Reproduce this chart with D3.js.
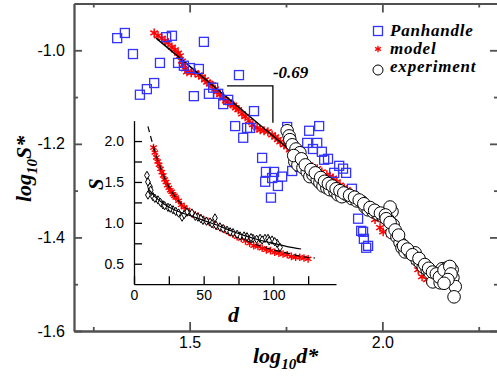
<!DOCTYPE html>
<html>
<head>
<meta charset="utf-8">
<script src="https://cdn.jsdelivr.net/npm/d3@7"></script>
<style>
  body { margin: 0; background: #fff; }
  svg { display: block; }
  .tick text { font-family: "Liberation Sans", Arial, sans-serif; fill: #000; }
  .lbl { font-family: "Liberation Serif", "Times New Roman", serif; font-weight: bold; font-style: italic; fill: #000; }
</style>
</head>
<body>
<svg id="chart" width="497" height="380"></svg>
<script>
// main panel: log10 d* vs log10 S*
const panhandle = [
  [1.312, -0.974], [1.332, -0.963], [1.353, -1.008], [1.371, -1.095], [1.389, -1.083], [1.408, -1.070],
  [1.423, -1.027], [1.439, -0.972], [1.454, -0.969], [1.470, -1.027], [1.485, -1.033], [1.501, -1.038],
  [1.524, -1.040], [1.537, -0.982], [1.511, -1.098], [1.550, -1.093], [1.561, -1.080], [1.574, -1.093],
  [1.587, -1.115], [1.600, -1.106], [1.628, -1.053], [1.618, -1.162], [1.639, -1.187], [1.649, -1.166],
  [1.657, -1.166], [1.667, -1.130], [1.688, -1.230], [1.696, -1.281], [1.698, -1.260], [1.711, -1.315],
  [1.714, -1.273], [1.719, -1.260], [1.729, -1.290], [1.740, -1.270], [1.753, -1.164], [1.766, -1.258],
  [1.786, -1.249], [1.805, -1.198], [1.810, -1.172], [1.820, -1.211], [1.831, -1.198], [1.836, -1.162],
  [1.843, -1.217], [1.849, -1.234], [1.859, -1.232], [1.875, -1.262], [1.888, -1.247], [1.898, -1.253],
  [1.906, -1.262], [1.921, -1.296], [1.937, -1.360], [1.945, -1.386], [1.950, -1.388], [1.952, -1.403],
  [1.958, -1.422], [1.963, -1.418]
];

const modelMain = [
  [1.408, -0.963], [1.418, -0.969], [1.428, -0.974], [1.436, -0.980], [1.444, -0.984], [1.454, -0.993],
  [1.462, -0.999], [1.470, -1.006], [1.475, -1.012], [1.480, -1.023], [1.483, -1.031], [1.488, -1.040],
  [1.493, -1.046], [1.504, -1.048], [1.514, -1.048], [1.524, -1.053], [1.532, -1.057], [1.540, -1.063],
  [1.545, -1.068], [1.553, -1.072], [1.558, -1.074], [1.566, -1.083], [1.571, -1.089], [1.579, -1.095],
  [1.587, -1.102], [1.594, -1.108], [1.600, -1.110], [1.607, -1.115], [1.613, -1.117], [1.620, -1.123],
  [1.626, -1.127], [1.636, -1.136], [1.644, -1.142], [1.654, -1.151], [1.664, -1.159], [1.675, -1.166],
  [1.683, -1.170], [1.693, -1.172], [1.703, -1.174], [1.714, -1.181], [1.722, -1.185], [1.729, -1.191],
  [1.735, -1.196], [1.745, -1.202], [1.753, -1.206], [1.760, -1.213], [1.768, -1.219], [1.779, -1.228],
  [1.792, -1.234], [1.799, -1.241], [1.807, -1.245], [1.818, -1.249], [1.831, -1.253], [1.843, -1.260],
  [1.856, -1.266], [1.864, -1.270], [1.872, -1.273], [1.882, -1.281], [1.890, -1.288], [1.901, -1.294],
  [1.908, -1.298], [1.919, -1.305], [1.929, -1.311], [1.940, -1.324], [1.950, -1.335], [1.960, -1.341],
  [1.968, -1.347], [1.981, -1.362], [1.994, -1.379], [2.002, -1.388], [2.020, -1.394], [2.041, -1.401],
  [2.054, -1.416], [2.072, -1.431], [2.085, -1.452], [2.093, -1.469], [2.103, -1.484], [2.116, -1.490]
];

const experimentMain = [
  [1.753, -1.172], [1.758, -1.183], [1.760, -1.191], [1.766, -1.202], [1.776, -1.211], [1.786, -1.219],
  [1.773, -1.238], [1.781, -1.245], [1.794, -1.251], [1.805, -1.260], [1.812, -1.270], [1.820, -1.266],
  [1.831, -1.277], [1.838, -1.283], [1.846, -1.290], [1.856, -1.294], [1.864, -1.298], [1.877, -1.302],
  [1.885, -1.309], [1.895, -1.313], [1.908, -1.309], [1.921, -1.317], [1.934, -1.322], [1.947, -1.324],
  [1.955, -1.335], [1.963, -1.341], [1.976, -1.345], [1.989, -1.350], [2.002, -1.354], [2.015, -1.354],
  [2.025, -1.345], [2.020, -1.335], [2.002, -1.356], [2.015, -1.362], [2.028, -1.373], [2.025, -1.390],
  [2.038, -1.399], [2.046, -1.411], [2.051, -1.422], [2.059, -1.431], [2.072, -1.433], [2.085, -1.433],
  [2.090, -1.448], [2.098, -1.454], [2.106, -1.463], [2.116, -1.469], [2.124, -1.476], [2.137, -1.480],
  [2.144, -1.486], [2.131, -1.495], [2.150, -1.497], [2.155, -1.467], [2.168, -1.465], [2.181, -1.469],
  [2.183, -1.486], [2.189, -1.505], [2.186, -1.527],
  [1.770, -1.225], [1.790, -1.232], [1.800, -1.245], [1.815, -1.255], [1.826, -1.262], [1.840, -1.272],
  [1.850, -1.280], [1.860, -1.285], [1.870, -1.290], [1.880, -1.296], [1.890, -1.300], [1.900, -1.305],
  [1.915, -1.310], [1.928, -1.314], [1.940, -1.320], [1.952, -1.328], [1.968, -1.336], [1.980, -1.342],
  [1.995, -1.348], [2.008, -1.352], [2.010, -1.360], [2.020, -1.368], [2.033, -1.384], [2.042, -1.395],
  [2.055, -1.418], [2.065, -1.425], [2.078, -1.437], [2.095, -1.445], [2.110, -1.458], [2.120, -1.466],
  [2.130, -1.474], [2.140, -1.478], [2.148, -1.485], [2.160, -1.470], [2.175, -1.462], [2.178, -1.478],
  [2.170, -1.490], [2.160, -1.498]
];

const fitMain = [[1.413, -0.974], [1.780, -1.227]];
const slopeMark = [[1.597, -1.076], [1.716, -1.076], [1.716, -1.155]];
const slopeText = "-0.69";

// inset: d vs S
const modelInset = [
  [14, 1.92], [15, 1.86], [16, 1.80], [17, 1.75], [18, 1.71], [19, 1.66], [20, 1.62], [21, 1.58],
  [22, 1.53], [23, 1.50], [24, 1.46], [25, 1.43], [26, 1.40], [27, 1.38], [28, 1.35], [29, 1.33],
  [30, 1.31], [32, 1.27], [34, 1.22], [36, 1.19], [38, 1.16], [40, 1.13], [42, 1.11], [44, 1.10],
  [46, 1.08], [48, 1.06], [50, 1.04], [53, 1.02], [56, 0.99], [59, 0.96], [62, 0.94], [65, 0.92],
  [68, 0.89], [71, 0.86], [74, 0.83], [77, 0.81], [80, 0.78], [83, 0.75], [86, 0.72], [89, 0.71],
  [92, 0.69], [95, 0.67], [98, 0.66], [101, 0.64], [104, 0.63], [107, 0.62], [110, 0.61], [113, 0.59],
  [116, 0.58], [119, 0.58], [122, 0.57], [125, 0.56]
];

const experimentInset = [
  [9.3, 1.58], [10.0, 1.50], [11.5, 1.44], [10.0, 1.34], [13.6, 1.32], [17.2, 1.28], [20.8, 1.22],
  [24.4, 1.19], [28.0, 1.16], [34.5, 1.07], [38.0, 1.13], [41.6, 1.12], [45.9, 1.07], [49.5, 1.03],
  [54.6, 1.01], [58.1, 1.06], [58.9, 0.97], [61.7, 0.95], [66.8, 0.91], [71.1, 0.88], [76.1, 0.84],
  [81.1, 0.83], [85.4, 0.81], [90.5, 0.81], [94.0, 0.81], [96.2, 0.81], [99.1, 0.79], [102.7, 0.75],
  [104.8, 0.70], [12, 1.40], [15, 1.30], [19, 1.25], [22, 1.21], [26, 1.18], [30, 1.14], [32, 1.12],
  [36, 1.10], [44, 1.08], [48, 1.05], [52, 1.02], [56, 0.99], [64, 0.93], [69, 0.89], [74, 0.86],
  [79, 0.84], [84, 0.82], [88, 0.80], [92, 0.79], [97, 0.78], [101, 0.77]
];

const fitModelInset = [
  [10, 2.18], [14, 1.93], [20, 1.63], [25, 1.44], [30, 1.31], [40, 1.14], [50, 1.03], [60, 0.95],
  [70, 0.87], [80, 0.79], [90, 0.72], [100, 0.67], [110, 0.63], [120, 0.59], [130, 0.57]
];
const fitExpInset = [
  [10, 1.42], [15, 1.32], [20, 1.25], [30, 1.15], [40, 1.09], [50, 1.03], [60, 0.97], [70, 0.90],
  [80, 0.84], [90, 0.79], [100, 0.75], [110, 0.71], [120, 0.68]
];

const legendLabels = ["Panhandle", "model", "experiment"];
const mainXMajor = [1.5, 2.0], mainXMinor = [1.25, 1.75, 2.25];
const mainYMajor = [-1.6, -1.4, -1.2, -1.0], mainYMinor = [-1.5, -1.3, -1.1];
const insetXMajor = [0, 50, 100], insetXMinor = [25, 75, 125];
const insetYTicks = [0.5, 0.75, 1.0, 1.25, 1.5, 1.75, 2.0], insetYLabels = [0.5, 1.0, 1.5, 2.0];

const svg = d3.select('#chart');
const margin = {left: 74, right: 498, top: 3.5, bottom: 331};
const box = {left: 134, right: 336, top: 120.6, bottom: 284.2};

const x = d3.scaleLinear().domain([1.2, 2.3]).range([margin.left, margin.right]);
const y = d3.scaleLinear().domain([-1.6, -0.9]).range([margin.bottom, margin.top]);
const xi = d3.scaleLinear().domain([0, 145]).range([box.left, box.right]);
const yi = d3.scaleLinear().domain([0.25, 2.25]).range([box.bottom, box.top]);

const fmt = d => d.toFixed(1);
const frameColor = '#505050';

function styleAxis(g, color, width) {
  g.selectAll('path, line').attr('stroke', color).attr('stroke-width', width);
}

// main frame
const addAxis = (axis, tx, ty) => {
  const g = svg.append('g').attr('transform', 'translate(' + tx + ',' + ty + ')').call(axis);
  styleAxis(g, frameColor, 1.8);
  g.selectAll('text').style('font-size', '16px');
  return g;
};
addAxis(d3.axisBottom(x).tickValues(mainXMajor).tickSize(-9).tickSizeOuter(0).tickPadding(6).tickFormat(fmt), 0, margin.bottom);
addAxis(d3.axisBottom(x).tickValues(mainXMinor).tickSize(-4).tickSizeOuter(0).tickFormat(''), 0, margin.bottom);
addAxis(d3.axisTop(x).tickValues(mainXMajor).tickSize(-9).tickSizeOuter(0).tickFormat(''), 0, margin.top);
addAxis(d3.axisTop(x).tickValues(mainXMinor).tickSize(-4).tickSizeOuter(0).tickFormat(''), 0, margin.top);
addAxis(d3.axisLeft(y).tickValues(mainYMajor).tickSize(-8).tickSizeOuter(0).tickPadding(9).tickFormat(fmt), margin.left, 0);
addAxis(d3.axisLeft(y).tickValues(mainYMinor).tickSize(-4).tickSizeOuter(0).tickFormat(''), margin.left, 0);
addAxis(d3.axisRight(y).tickValues(mainYMajor).tickSize(-8).tickSizeOuter(0).tickFormat(''), margin.right, 0);
addAxis(d3.axisRight(y).tickValues(mainYMinor).tickSize(-4).tickSizeOuter(0).tickFormat(''), margin.right, 0);

// inset axes
const addInsetAxis = (axis, tx, ty) => {
  const g = svg.append('g').attr('transform', 'translate(' + tx + ',' + ty + ')').call(axis);
  styleAxis(g, '#000', 1.3);
  g.selectAll('text').style('font-size', '14px');
  return g;
};
addInsetAxis(d3.axisBottom(xi).tickValues(insetXMajor.concat(insetXMinor)).tickSize(-8).tickSizeOuter(0).tickPadding(6)
  .tickFormat(d => insetXMajor.includes(d) ? d : ''), 0, box.bottom);
addInsetAxis(d3.axisLeft(yi).tickValues(insetYTicks).tickSize(-8).tickSizeOuter(0).tickPadding(10)
  .tickFormat(d => insetYLabels.includes(d) ? fmt(d) : ''), box.left, 0);

// inset data
const lineI = d3.line().x(d => xi(d[0])).y(d => yi(d[1])).curve(d3.curveMonotoneX);
const star = d3.symbol().type(d3.symbolAsterisk);
const diamond = d3.symbol().type(d3.symbolDiamond).size(20);

svg.append('g').selectAll('path').data(modelInset).join('path')
  .attr('transform', d => 'translate(' + xi(d[0]) + ',' + yi(d[1]) + ')')
  .attr('d', star.size(40)()).attr('fill', 'none').attr('stroke', '#ff0000').attr('stroke-width', 1.4);

svg.append('path').datum(fitModelInset).attr('d', lineI)
  .attr('fill', 'none').attr('stroke', '#000').attr('stroke-width', 1.2).attr('stroke-dasharray', '6,4');

svg.append('g').selectAll('path').data(experimentInset).join('path')
  .attr('transform', d => 'translate(' + xi(d[0]) + ',' + yi(d[1]) + ')')
  .attr('d', diamond()).attr('fill', '#fff').attr('stroke', '#000').attr('stroke-width', 1);

svg.append('path').datum(fitExpInset).attr('d', lineI)
  .attr('fill', 'none').attr('stroke', '#000').attr('stroke-width', 1.2);

// main data
svg.append('g').selectAll('path').data(modelMain).join('path')
  .attr('transform', d => 'translate(' + x(d[0]) + ',' + y(d[1]) + ')')
  .attr('d', star.size(55)()).attr('fill', 'none').attr('stroke', '#ff0000').attr('stroke-width', 1.5);

const lineM = d3.line().x(d => x(d[0])).y(d => y(d[1]));
svg.append('path').datum(fitMain).attr('d', lineM).attr('fill', 'none').attr('stroke', '#000').attr('stroke-width', 1.5);
svg.append('path').datum(slopeMark).attr('d', lineM).attr('fill', 'none').attr('stroke', '#000').attr('stroke-width', 1.3);
svg.append('text').attr('class', 'lbl').attr('x', x(slopeMark[1][0])).attr('y', y(slopeMark[1][1]) - 8)
  .style('font-size', '17px').text(slopeText);

const sq = 9;
svg.append('g').selectAll('rect').data(panhandle).join('rect')
  .attr('x', d => x(d[0]) - sq / 2).attr('y', d => y(d[1]) - sq / 2)
  .attr('width', sq).attr('height', sq)
  .attr('fill', 'none').attr('stroke', '#3333ff').attr('stroke-width', 1.3);

svg.append('g').selectAll('circle').data(experimentMain).join('circle')
  .attr('cx', d => x(d[0])).attr('cy', d => y(d[1])).attr('r', 6.3)
  .attr('fill', '#fff').attr('stroke', '#000').attr('stroke-width', 1);

// legend
const legend = svg.append('g').attr('transform', 'translate(378,0)');
legend.append('rect').attr('x', -4.5).attr('y', 26.5).attr('width', 9).attr('height', 9)
  .attr('fill', 'none').attr('stroke', '#3333ff').attr('stroke-width', 1.3);
legend.append('path').attr('transform', 'translate(0,49)').attr('d', star.size(30)())
  .attr('fill', 'none').attr('stroke', '#ff0000').attr('stroke-width', 1.3);
legend.append('circle').attr('cx', 0).attr('cy', 70).attr('r', 5)
  .attr('fill', '#fff').attr('stroke', '#000').attr('stroke-width', 1);
legendLabels.forEach((t, i) => {
  legend.append('text').attr('class', 'lbl').attr('x', 12).attr('y', 36 + i * 18)
    .style('font-size', '17px').style('letter-spacing', '0.8px').text(t);
});

// axis titles
const yTitle = svg.append('text').attr('class', 'lbl')
  .attr('transform', 'translate(31,202) rotate(-90)').style('font-size', '22px');
yTitle.append('tspan').text('log');
yTitle.append('tspan').attr('dy', 6).style('font-size', '15px').text('10');
yTitle.append('tspan').attr('dy', -6).text('S*');

const xTitle = svg.append('text').attr('class', 'lbl')
  .attr('x', 253).attr('y', 363).style('font-size', '22px');
xTitle.append('tspan').text('log');
xTitle.append('tspan').attr('dy', 6).style('font-size', '15px').text('10');
xTitle.append('tspan').attr('dy', -6).text('d*');

svg.append('text').attr('class', 'lbl').attr('transform', 'translate(103,190) rotate(-90)')
  .style('font-size', '21px').text('S');
svg.append('text').attr('class', 'lbl').attr('x', 228).attr('y', 322)
  .style('font-size', '22px').text('d');
</script>
</body>
</html>
